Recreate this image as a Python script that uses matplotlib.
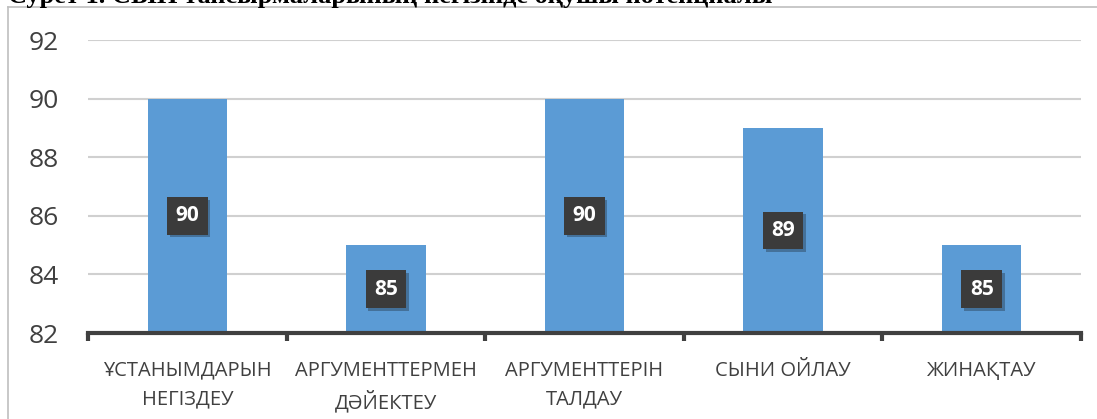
import matplotlib
matplotlib.use("Agg")
import matplotlib.pyplot as plt
import matplotlib.patheffects as pe
from matplotlib.lines import Line2D

categories = ["ҰСТАНЫМДАРЫН\nНЕГІЗДЕУ", "АРГУМЕНТТЕРМЕН\nДӘЙЕКТЕУ", "АРГУМЕНТТЕРІН\nТАЛДАУ",
              "СЫНИ ОЙЛАУ", "ЖИНАҚТАУ"]
values = [90, 85, 90, 89, 85]
yticks = [82, 84, 86, 88, 90, 92]
title = "Сурет 1. СЫН тапсырмаларының негізінде оқушы потенциалы"

W, H = 1097, 419
fig = plt.figure(figsize=(W / 100, H / 100), dpi=100)
plt.rcParams['font.family'] = ['Open Sans', 'DejaVu Sans']

ax = fig.add_axes([88 / W, 1 - 333 / H, (1081 - 88) / W, (333 - 40) / H])
x = list(range(len(categories)))
bars = ax.bar(x, [v - yticks[0] for v in values], bottom=yticks[0], width=0.4,
              color="#5B9BD5", zorder=3)
ax.set_xlim(-0.5, len(categories) - 0.5)
ax.set_ylim(yticks[0], yticks[-1])
ax.set_yticks(yticks)
ax.set_yticklabels([str(t) for t in yticks], fontsize=19, color="#404040")
ax.tick_params(axis='y', length=0, pad=21)
ax.set_xticks(x)
ax.set_xticklabels(categories, fontsize=14.5, color="#404040", linespacing=1.55, va='top')
ax.tick_params(axis='x', length=0, pad=20)
ax.set_xticks([i - 0.5 for i in range(len(categories) + 1)], minor=True)
ax.tick_params(axis='x', which='minor', length=6, width=3, color="#404040", direction='out')
ax.grid(axis='y', color="#D0D0D0", linewidth=1.5, zorder=0)
for s in ['top', 'right', 'left']:
    ax.spines[s].set_visible(False)
ax.spines['bottom'].set_color("#404040")
ax.spines['bottom'].set_linewidth(3)
ax.spines['bottom'].set_zorder(4)

for xi, v in zip(x, values):
    ax.text(xi, (yticks[0] + v) / 2, str(v), ha='center', va='center', fontsize=15,
            fontweight='bold', color='white', zorder=5,
            bbox=dict(boxstyle='square,pad=0.4', facecolor='#3B3B3B', edgecolor='none',
                      path_effects=[pe.SimplePatchShadow(offset=(2, -2), alpha=0.3), pe.Normal()]))

# outer frame
fig.add_artist(Line2D([8 / W, 8 / W], [0, 1 - 7 / H], color="#BFBFBF", linewidth=1.2,
                      transform=fig.transFigure))
fig.add_artist(Line2D([8 / W, 1], [1 - 7 / H, 1 - 7 / H], color="#BFBFBF", linewidth=1.2,
                      transform=fig.transFigure))
fig.text(8 / W, 1 - 3 / H, title, fontsize=19, fontweight='bold', family='Liberation Serif',
         ha='left', va='baseline', color='black')

fig.savefig("out.png", dpi=100, facecolor='white')
